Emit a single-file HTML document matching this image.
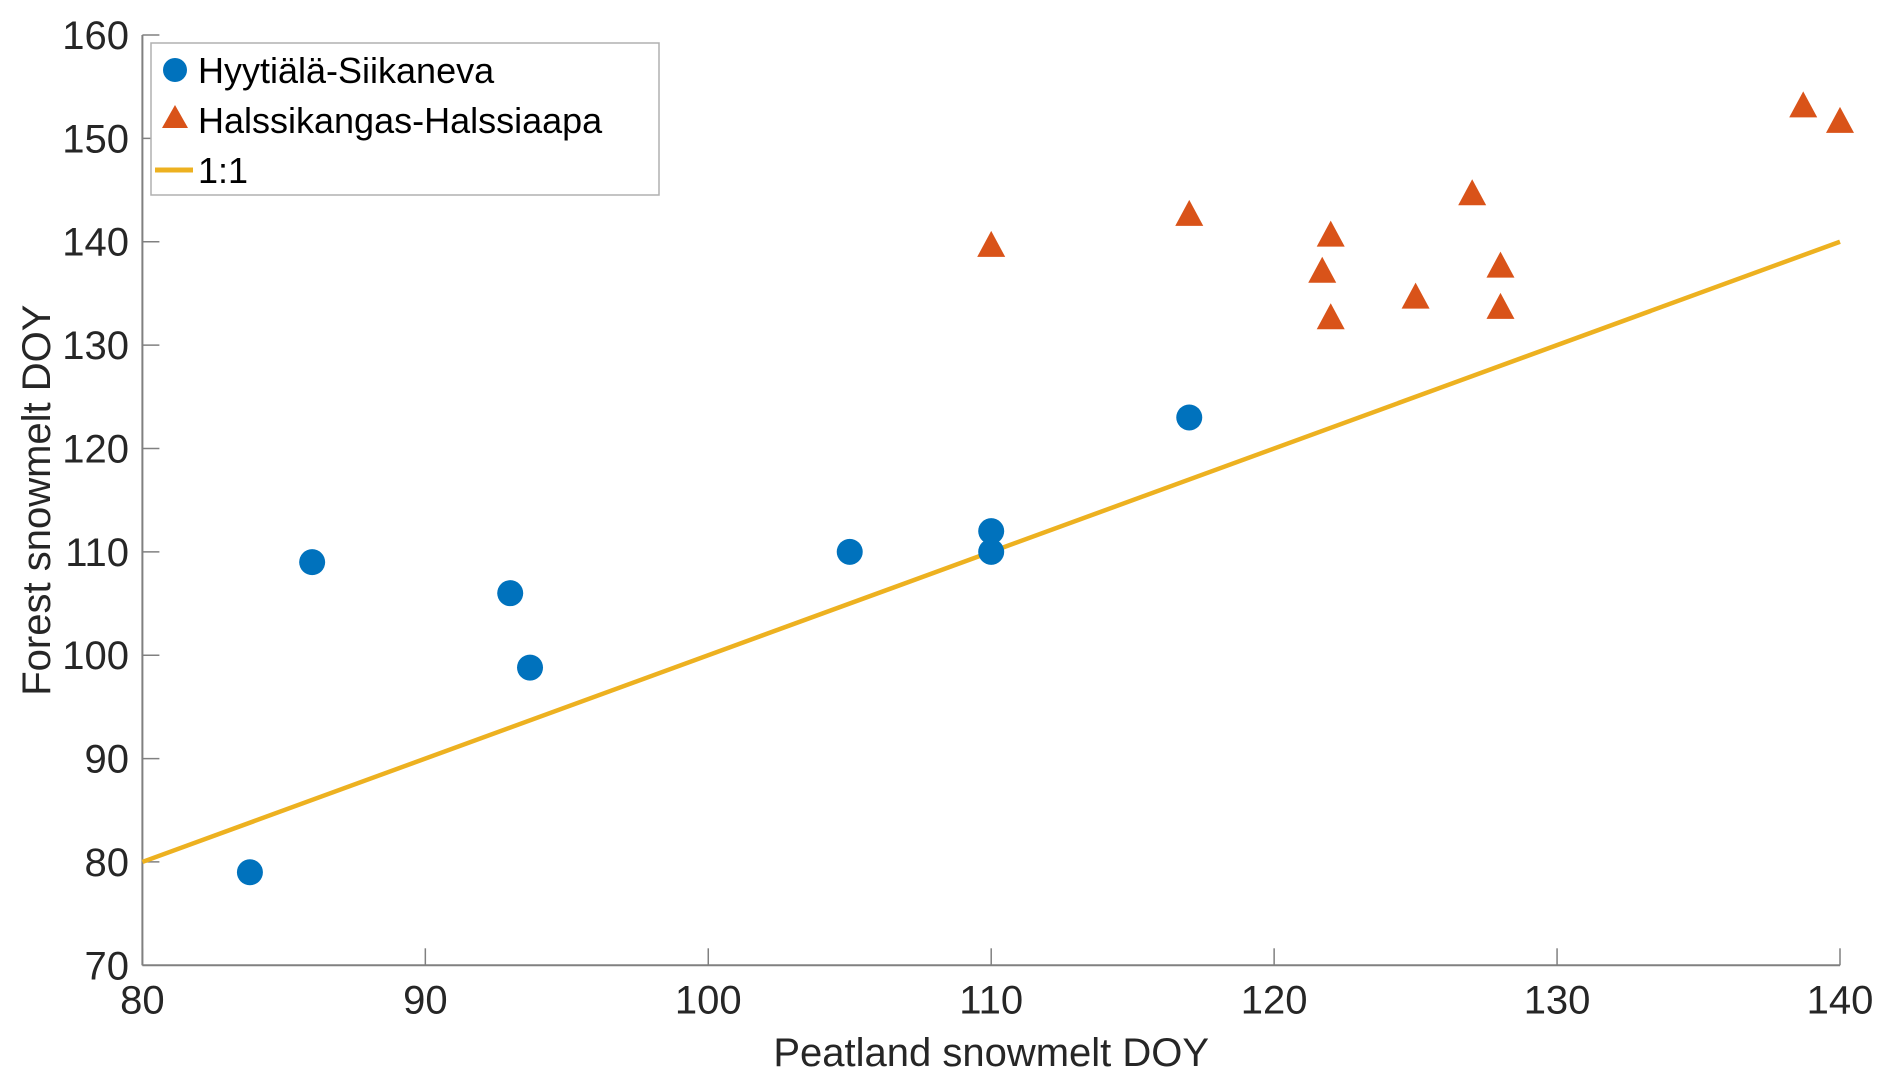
<!DOCTYPE html>
<html><head><meta charset="utf-8"><style>
html,body{margin:0;padding:0;background:#fff;}
svg{display:block;font-family:"Liberation Sans",Arial,sans-serif;}
</style></head><body>
<svg id="chart" width="1892" height="1086" viewBox="0 0 1892 1086">
<g id="axes"></g>
<g id="marks"></g>
<g>
<rect x="151" y="43" width="508" height="152" fill="#fff" stroke="#b0b0b0" stroke-width="1.5"/>
<circle cx="175" cy="70" r="12" fill="#0072BD"/>
<text x="198" y="83" font-size="36" fill="#000">Hyytiälä-Siikaneva</text>
<polygon points="175,105 188,128 162,128" fill="#D95319"/>
<text x="198" y="133" font-size="36" fill="#000">Halssikangas-Halssiaapa</text>
<line x1="155" y1="170" x2="193" y2="170" stroke="#EDB120" stroke-width="5"/>
<text x="198" y="183" font-size="36" fill="#000">1:1</text>
</g>
</svg>
<script>
const xTicks = [80, 90, 100, 110, 120, 130, 140];
const yTicks = [70, 80, 90, 100, 110, 120, 130, 140, 150, 160];
const hyytialaX = [83.8, 86, 93, 93.7, 105, 110, 110, 117];
const hyytialaY = [79, 109, 106, 98.8, 110, 112, 110, 123];
const halssiX = [110, 117, 121.7, 122, 122, 125, 127, 128, 128, 138.7, 140];
const halssiY = [139.5, 142.5, 137, 140.5, 132.5, 134.5, 144.5, 137.5, 133.5, 153, 151.5];
const oneToOne = [80, 140];

const NS = 'http://www.w3.org/2000/svg';
const X0 = 142.4, X1 = 1840, Y0 = 965.3, Y1 = 35;
const sx = v => X0 + (v - 80) / 60 * (X1 - X0);
const sy = v => Y0 - (v - 70) / 90 * (Y0 - Y1);
function mk(tag, attrs, parent) {
  const e = document.createElementNS(NS, tag);
  for (const k in attrs) e.setAttribute(k, attrs[k]);
  parent.appendChild(e);
  return e;
}
const axes = document.getElementById('axes');
const marks = document.getElementById('marks');

let l = mk('line', {x1: X0, y1: Y0, x2: X1, y2: Y0, stroke: '#808080', 'stroke-width': 2}, axes);


l = mk('line', {x1: X0, y1: Y0, x2: X0, y2: Y1, stroke: '#808080', 'stroke-width': 2}, axes);



xTicks.forEach(t => {
  const x = sx(t);
  const tk = mk('line', {x1: x, y1: Y0, x2: x, y2: Y0 - 17, stroke: '#808080', 'stroke-width': 1.5}, axes);
  
  
  const tx = mk('text', {x: x, y: Y0 + 48, 'font-size': 40, fill: '#262626', 'text-anchor': 'middle'}, axes);
  tx.textContent = t;
  
  
});
yTicks.forEach(t => {
  const y = sy(t);
  const tk = mk('line', {x1: X0, y1: y, x2: X0 + 17, y2: y, stroke: '#808080', 'stroke-width': 1.5}, axes);
  
  
  const tx = mk('text', {x: 129, y: y + 14, 'font-size': 40, fill: '#262626', 'text-anchor': 'end'}, axes);
  tx.textContent = t;
  
  
});
let tt = mk('text', {x: (X0 + X1) / 2, y: 1066, 'font-size': 40, fill: '#262626', 'text-anchor': 'middle'}, axes);
tt.textContent = 'Peatland snowmelt DOY';


tt = mk('text', {x: 0, y: 0, 'font-size': 40, fill: '#262626', 'text-anchor': 'middle', transform: 'translate(50,' + ((Y0 + Y1) / 2) + ') rotate(-90)'}, axes);
tt.textContent = 'Forest snowmelt DOY';



const ln = mk('line', {x1: sx(oneToOne[0]), y1: sy(oneToOne[0]), x2: sx(oneToOne[1]), y2: sy(oneToOne[1]), stroke: '#EDB120', 'stroke-width': 4.5}, marks);



hyytialaX.forEach((v, i) => {
  const c = mk('circle', {cx: sx(v), cy: sy(hyytialaY[i]), r: 13, fill: '#0072BD'}, marks);
  
  
});
halssiX.forEach((v, i) => {
  const x = sx(v), y = sy(halssiY[i]);
  const p = mk('polygon', {points: `${x},${y - 16} ${x + 14},${y + 10} ${x - 14},${y + 10}`, fill: '#D95319'}, marks);
  
  
});
</script>
</body></html>
